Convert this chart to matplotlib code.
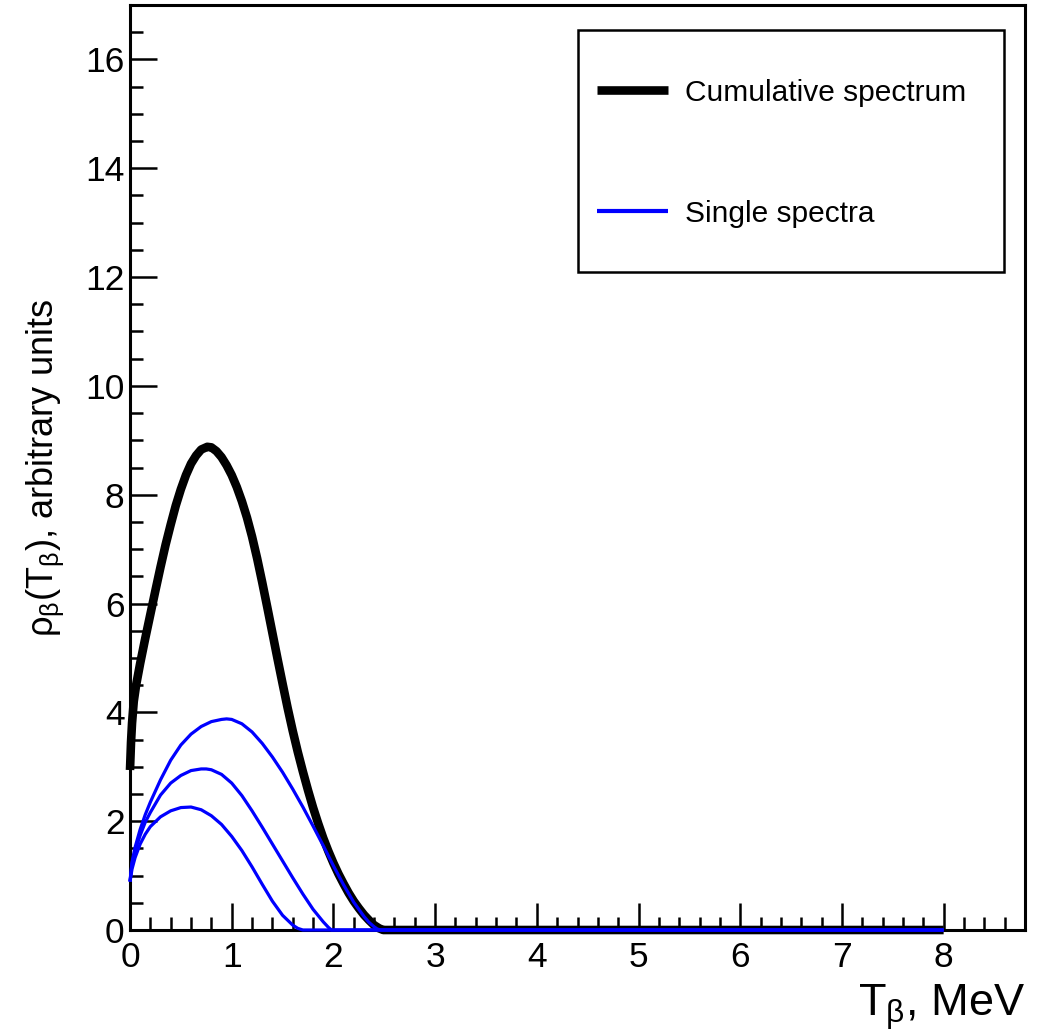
import matplotlib
matplotlib.use("Agg")
import matplotlib.pyplot as plt
from matplotlib.ticker import MultipleLocator
from matplotlib.lines import Line2D
from matplotlib.patches import Rectangle

plt.rcParams['font.family'] = ['Liberation Sans', 'DejaVu Sans']
plt.rcParams['mathtext.fontset'] = 'custom'
plt.rcParams['mathtext.rm'] = 'Liberation Sans'
plt.rcParams['mathtext.it'] = 'Liberation Sans'
plt.rcParams['mathtext.bf'] = 'Liberation Sans:bold'
plt.rcParams['mathtext.default'] = 'regular'

# ---- spectra (T in MeV, rho in arbitrary units) ----
cum_T = [0.0, 0.01, 0.02, 0.037, 0.06, 0.1, 0.15, 0.2, 0.25, 0.3, 0.35, 0.4,
         0.45, 0.5, 0.55, 0.6, 0.65, 0.7, 0.76, 0.8, 0.85, 0.9, 0.95, 1.0,
         1.05, 1.1, 1.15, 1.2, 1.25, 1.3, 1.35, 1.4, 1.45, 1.5, 1.55, 1.6,
         1.65, 1.7, 1.75, 1.8, 1.85, 1.9, 1.95, 2.0, 2.05, 2.1, 2.15, 2.2,
         2.25, 2.3, 2.35, 2.4, 2.45, 2.49, 8.0]
cum_rho = [2.94, 3.45, 3.80, 4.20, 4.50, 4.90, 5.36, 5.80, 6.24, 6.67, 7.08, 7.45,
           7.80, 8.10, 8.36, 8.57, 8.72, 8.83, 8.88, 8.87, 8.80, 8.69, 8.54, 8.36,
           8.14, 7.88, 7.58, 7.23, 6.83, 6.39, 5.93, 5.46, 4.99, 4.53, 4.08, 3.66,
           3.27, 2.91, 2.57, 2.25, 1.96, 1.69, 1.45, 1.23, 1.03, 0.85, 0.68, 0.53,
           0.40, 0.28, 0.18, 0.09, 0.03, 0.0, 0.0]

s1_T = [0.0, 0.02, 0.05, 0.1, 0.15, 0.2, 0.3, 0.4, 0.5, 0.6, 0.7, 0.8, 0.9,
        0.95, 1.0, 1.1, 1.2, 1.3, 1.4, 1.5, 1.6, 1.7, 1.8, 1.9, 2.0, 2.1,
        2.2, 2.3, 2.35, 2.4, 2.43, 2.46, 8.0]
s1_rho = [0.89, 1.25, 1.52, 1.85, 2.12, 2.35, 2.76, 3.12, 3.40, 3.60, 3.74, 3.83, 3.87,
          3.88, 3.87, 3.79, 3.64, 3.43, 3.18, 2.90, 2.59, 2.26, 1.91, 1.55, 1.18, 0.83,
          0.51, 0.25, 0.14, 0.06, 0.02, 0.0, 0.0]

s2_T = [0.0, 0.02, 0.05, 0.1, 0.15, 0.2, 0.3, 0.4, 0.5, 0.6, 0.7, 0.75, 0.8,
        0.9, 1.0, 1.1, 1.2, 1.3, 1.4, 1.5, 1.6, 1.7, 1.8, 1.9, 1.95, 1.98, 8.0]
s2_rho = [0.89, 1.22, 1.45, 1.74, 1.98, 2.16, 2.48, 2.70, 2.84, 2.93, 2.96, 2.96, 2.945,
          2.86, 2.70, 2.47, 2.19, 1.89, 1.58, 1.27, 0.96, 0.66, 0.38, 0.15, 0.05, 0.0, 0.0]

s3_T = [0.0, 0.02, 0.05, 0.1, 0.15, 0.2, 0.3, 0.4, 0.5, 0.6, 0.7, 0.8, 0.9,
        1.0, 1.1, 1.2, 1.3, 1.4, 1.5, 1.6, 1.65, 1.7, 8.0]
s3_rho = [0.89, 1.12, 1.33, 1.58, 1.76, 1.90, 2.08, 2.19, 2.25, 2.26, 2.21, 2.10, 1.94,
          1.72, 1.46, 1.16, 0.84, 0.53, 0.27, 0.09, 0.03, 0.0, 0.0]

singles = [(s1_T, s1_rho), (s2_T, s2_rho), (s3_T, s3_rho)]

legend_labels = ["Cumulative spectrum", "Single spectra"]
x_ticks = [0, 1, 2, 3, 4, 5, 6, 7, 8]
y_ticks = [0, 2, 4, 6, 8, 10, 12, 14, 16]

W, H = 1037, 1034
fig = plt.figure(figsize=(W / 100, H / 100), dpi=100)
ax = fig.add_axes([130 / W, 104 / H, 895 / W, 925 / H])

cum_line, = ax.plot(cum_T, cum_rho, color='black', lw=6.2, zorder=3,
                    clip_on=False, solid_capstyle='butt', solid_joinstyle='round')
single_lines = []
for T, rho in singles:
    ln, = ax.plot(T, rho, color='#0000ff', lw=2.3, zorder=4, clip_on=False,
                  solid_capstyle='butt', solid_joinstyle='round')
    single_lines.append(ln)

ax.set_xlim(0, 8.8)
ax.set_ylim(0, 17)
ax.set_xticks(x_ticks)
ax.set_yticks(y_ticks)
ax.xaxis.set_minor_locator(MultipleLocator(0.2))
ax.yaxis.set_minor_locator(MultipleLocator(0.5))

ax.tick_params(which='both', direction='in', top=False, right=False,
               width=1.8, color='black')
ax.tick_params(which='major', length=19.5, labelsize=25.5)
ax.tick_params(which='minor', length=9.5)
ax.tick_params(axis='x', which='major', pad=8)
ax.tick_params(axis='y', which='major', pad=4)
for sp in ax.spines.values():
    sp.set_linewidth(2.2)

ax.set_xlabel(r'$T_{\beta}$, MeV', fontsize=32.5)
ax.xaxis.label.set_horizontalalignment('right')
ax.xaxis.label.set_verticalalignment('baseline')
ax.xaxis.set_label_coords(1.0, -86 / 925)

ax.set_ylabel(r'$\rho_{\beta}(T_{\beta})$, arbitrary units', fontsize=26)
ax.yaxis.set_label_coords(-64 / 895, 0.5)

# legend box drawn in axes coordinates
box = Rectangle((448 / 895, 658 / 925), 426 / 895, 242 / 925,
                transform=ax.transAxes, facecolor='white', edgecolor='black',
                lw=1.8, zorder=6)
ax.add_patch(box)
entries = [(cum_line, 840 / 925, cum_line.get_linewidth()),
           (single_lines[0], 719 / 925, 3.0)]
for (artist, yy, lw), label in zip(entries, legend_labels):
    ax.add_line(Line2D([467 / 895, 538 / 895], [yy, yy], transform=ax.transAxes,
                       color=artist.get_color(), lw=lw,
                       solid_capstyle='butt', zorder=7))
    ax.text(555 / 895, yy, label, transform=ax.transAxes, fontsize=21.5,
            va='center_baseline', ha='left', zorder=7)

fig.savefig('out.png', dpi=100)
